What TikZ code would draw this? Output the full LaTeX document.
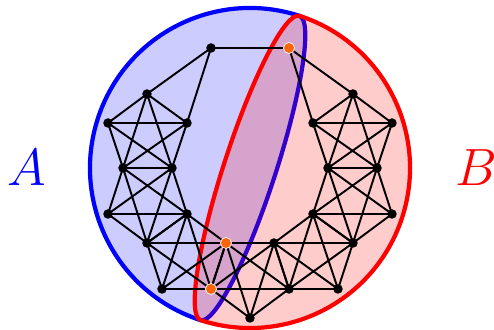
\documentclass[tikz,border=0pt]{standalone}
\usepackage{tikz}
\definecolor{cutorange}{RGB}{250,100,10}
\pgfdeclarelayer{setlayer}
\pgfdeclarelayer{linklayer}
\pgfsetlayers{setlayer,linklayer,main}

\begin{document}
\begin{tikzpicture}[
  x=0.2mm, y=0.2mm,
  vtx/.style={circle, fill=black, inner sep=0pt, minimum size=1.9mm},
  cutvtx/.style={circle, fill=cutorange, draw=white, line width=0.4pt,
    inner sep=0pt, minimum size=2.2mm},
  link/.style={black, line width=1.1pt},
  setline/.style={line width=2.4pt, line join=round, fill opacity=0.2},
  setlabel/.style={font=\Huge, scale=1.2, transform shape, inner sep=0pt}
]
  \useasboundingbox (-250,-162) rectangle (244,168);

  % the two sets, drawn in the frame of the tilted ellipse
  \begin{pgfonlayer}{setlayer}
  \begin{scope}[rotate=72]
    \path[setline, draw=blue, fill=blue] (160,0)
      arc[start angle=0, end angle=180, radius=160]
      arc[start angle=180, end angle=360, x radius=160, y radius=26] -- cycle;
    \path[setline, draw=red, fill=red] (160,0)
      arc[start angle=0, end angle=-180, radius=160]
      arc[start angle=180, end angle=0, x radius=160, y radius=26] -- cycle;
  \end{scope}
  \end{pgfonlayer}

  \node[setlabel, text=blue] (labA) at (-223,0) {$A$};
  \node[setlabel, text=red] (labB) at (226,0) {$B$};

  % vertices
  \node[vtx] (t1) at (-39,120) {};
  \node[cutvtx] (t2) at (39,120) {};
  \node[vtx] (l1) at (-103,74) {};
  \node[vtx] (l2) at (-142,45) {};
  \node[vtx] (l3) at (-63,45) {};
  \node[vtx] (l4) at (-127,0) {};
  \node[vtx] (l5) at (-78,0) {};
  \node[vtx] (l6) at (-142,-46) {};
  \node[vtx] (l7) at (-63,-46) {};
  \node[vtx] (l8) at (-103,-75) {};
  \node[vtx] (r1) at (103,74) {};
  \node[vtx] (r2) at (142,45) {};
  \node[vtx] (r3) at (63,45) {};
  \node[vtx] (r4) at (127,0) {};
  \node[vtx] (r5) at (78,0) {};
  \node[vtx] (r6) at (142,-46) {};
  \node[vtx] (r7) at (63,-46) {};
  \node[vtx] (r8) at (103,-75) {};
  \node[cutvtx] (b1) at (-24,-75) {};
  \node[vtx] (b2) at (-88,-121) {};
  \node[cutvtx] (b3) at (-39,-121) {};
  \node[vtx] (b4) at (0,-150) {};
  \node[vtx] (b5) at (24,-75) {};
  \node[vtx] (b6) at (39,-121) {};
  \node[vtx] (b7) at (88,-121) {};

  % edges, behind the vertices
  \begin{pgfonlayer}{linklayer}
  \foreach \p/\q/\r/\s/\t in {l1/l2/l3/l4/l5, l4/l5/l6/l7/l8, l7/l8/b1/b2/b3,
      b1/b3/b5/b4/b6, b5/b6/r7/r8/b7, r4/r5/r6/r7/r8, r1/r2/r3/r4/r5}
  {
    \draw[link] (\p.center)--(\q.center) (\p.center)--(\r.center)
      (\p.center)--(\s.center) (\p.center)--(\t.center)
      (\q.center)--(\r.center) (\q.center)--(\s.center)
      (\q.center)--(\t.center) (\r.center)--(\s.center)
      (\r.center)--(\t.center) (\s.center)--(\t.center);
  }
  \foreach \a/\b in {t1/t2, t1/l1, t1/l3, t2/r1, t2/r3}
    \draw[link] (\a.center)--(\b.center);
  \end{pgfonlayer}
\end{tikzpicture}
\end{document}
